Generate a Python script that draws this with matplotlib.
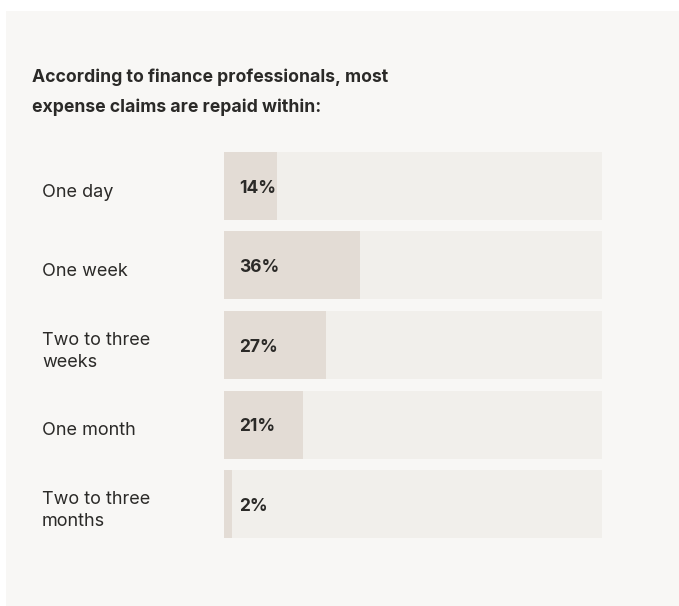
import matplotlib
matplotlib.use("Agg")
import matplotlib.pyplot as plt
from matplotlib.patches import Rectangle
from matplotlib.transforms import blended_transform_factory

plt.rcParams['font.family'] = ['Inter', 'DejaVu Sans']

# Survey answers, top to bottom
categories = ["One day", "One week", "Two to three\nweeks", "One month",
              "Two to three\nmonths"]
shares = [14, 36, 27, 21, 2]
value_labels = ["14%", "36%", "27%", "21%", "2%"]
title = "According to finance professionals, most\nexpense claims are repaid within:"

W, H = 679, 606
ink = "#2b2a28"
panel_color = "#f8f7f5"
track_color = "#f1efeb"
fill_color = "#e3dcd5"

fig = plt.figure(figsize=(W / 100, H / 100), dpi=100, facecolor="white")

# light card behind everything
fig.patches.append(Rectangle((6 / W, 0), 1 - 6 / W, 1 - 11 / H,
                             transform=fig.transFigure, facecolor=panel_color,
                             edgecolor="none", zorder=-5))

fig.text(32 / W, 1 - 68 / H, title, ha="left", va="top", fontsize=12.7,
         fontweight="bold", color=ink, linespacing=2.0)

# bar area in pixel coordinates
left, right, top, bottom = 224, 602, 152, 538
ax = fig.add_axes([left / W, 1 - bottom / H, (right - left) / W, (bottom - top) / H])
ax.set_facecolor("none")
ax.set_zorder(2)

n = len(shares)
bar_h = 68 / 79.5
pos = list(range(n))
ax.barh(pos, [100] * n, height=bar_h, left=0, color=track_color, zorder=1)
ax.barh(pos, shares, height=bar_h, left=0, color=fill_color, zorder=2)

ax.set_xlim(0, 100)
ax.set_ylim(n - 1 + bar_h / 2, -bar_h / 2)
ax.axis("off")

lab_tf = blended_transform_factory(fig.transFigure, ax.transData)
for y, cat, lab in zip(pos, categories, value_labels):
    ax.text(42 / W, y + 0.08, cat, transform=lab_tf, ha="left", va="center",
            fontsize=13, color=ink, linespacing=1.4, clip_on=False)
    ax.text(15.5 / (right - left) * 100, y + 0.03, lab, ha="left", va="center",
            fontsize=12.5, fontweight="bold", color=ink, zorder=3)

fig.savefig("out.png", dpi=100, facecolor="white")
